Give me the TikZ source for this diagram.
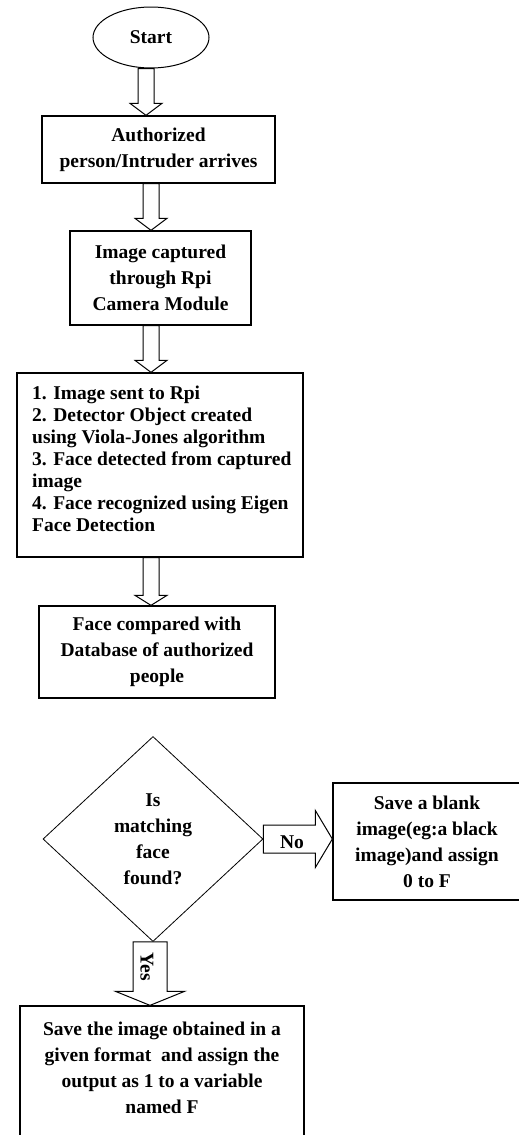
\documentclass[tikz,border=0pt]{standalone}
\usepackage{fontspec}
\setmainfont{Liberation Serif}
\usetikzlibrary{shapes.geometric,calc}
\tikzset{
  box/.style={draw, line width=1.3pt, rectangle, inner sep=0pt, align=center,
    font=\bfseries\fontsize{19.5}{26}\selectfont},
  barrow/.style={draw, line width=1pt, fill=white, line join=miter},
  lbl/.style={font=\bfseries\fontsize{19.5}{24}\selectfont, inner sep=0pt}
}
% vertical block arrow: #1 x, #2 from node, #3 to node, #4 shaft half width, #5 head half width, #6 head length
\newcommand\vblockarrow[6]{%
  \draw[barrow] let \p1=(#2.south), \p2=(#3.north) in
  (#1pt-#4pt,\y1) -- (#1pt-#4pt,\y2+#6pt) -- (#1pt-#5pt,\y2+#6pt) -- (#1pt,\y2)
  -- (#1pt+#5pt,\y2+#6pt) -- (#1pt+#4pt,\y2+#6pt) -- (#1pt+#4pt,\y1) -- cycle;}
% horizontal block arrow: #1 y, #2 from node, #3 to node, #4 shaft half width, #5 head half width, #6 head length
\newcommand\hblockarrow[6]{%
  \draw[barrow] let \p1=(#2.east), \p2=(#3.west) in
  (\x1,-#1pt+#4pt) -- (\x2-#6pt,-#1pt+#4pt) -- (\x2-#6pt,-#1pt+#5pt) -- (\x2,-#1pt)
  -- (\x2-#6pt,-#1pt-#5pt) -- (\x2-#6pt,-#1pt-#4pt) -- (\x1,-#1pt-#4pt) -- cycle;}
\begin{document}
\begin{tikzpicture}[x=1pt,y=1pt]
\useasboundingbox (0,0) rectangle (519,-1135);
\node[draw, ellipse, line width=1pt, minimum width=116, minimum height=61, inner sep=0pt,
  font=\bfseries\fontsize{19.5}{24}\selectfont] (start) at (151,-37.5) {Start};
\node[box, minimum width=233, minimum height=67] (b1) at (158.5,-149.5)
  {Authorized\\person/Intruder arrives};
\node[box, minimum width=181, minimum height=94] (b2) at (160.5,-278)
  {Image captured\\through Rpi\\Camera Module};
\node[box, minimum width=286, minimum height=184] (b3) at (160,-465) {};
\node[anchor=west, inner sep=0pt, align=left, font=\bfseries\fontsize{19.5}{22}\selectfont]
  (b3t) at (32,-459) {1. Image sent to Rpi\\2. Detector Object created\\using Viola-Jones algorithm\\3. Face detected from captured\\image\\4. Face recognized using Eigen\\Face Detection};
\node[box, minimum width=236, minimum height=92] (b4) at (157,-652)
  {Face compared with\\Database of authorized\\people};
\node[draw, diamond, line width=0.8pt, minimum width=220, minimum height=205, inner sep=0pt,
  align=center, font=\bfseries\fontsize{19.5}{26}\selectfont] (d) at (153,-839)
  {Is\\matching\\face\\found?};
\node[box, minimum width=188, minimum height=117] (no) at (427,-841.5)
  {Save a blank\\image(eg:a black\\image)and assign\\0 to F};
\node[box, minimum width=284, minimum height=150] (yes) at (162,-1081)
  {Save the image obtained in a\\given format\ \ and assign the\\output as 1 to a variable\\named F\\\mbox{}};
\vblockarrow{146}{start}{b1}{8}{16}{12}
\vblockarrow{151}{b1}{b2}{8}{16}{12}
\vblockarrow{151}{b2}{b3}{8}{16}{12}
\vblockarrow{151}{b3}{b4}{8}{16}{10}
\vblockarrow{150}{d}{yes}{17}{34.5}{14}
\hblockarrow{839}{d}{no}{14}{28.5}{17}
\node[lbl] (nolabel) at (292,-842) {No};
\node[lbl, rotate=-90] (yeslabel) at (147,-967) {Yes};
\end{tikzpicture}
\end{document}
